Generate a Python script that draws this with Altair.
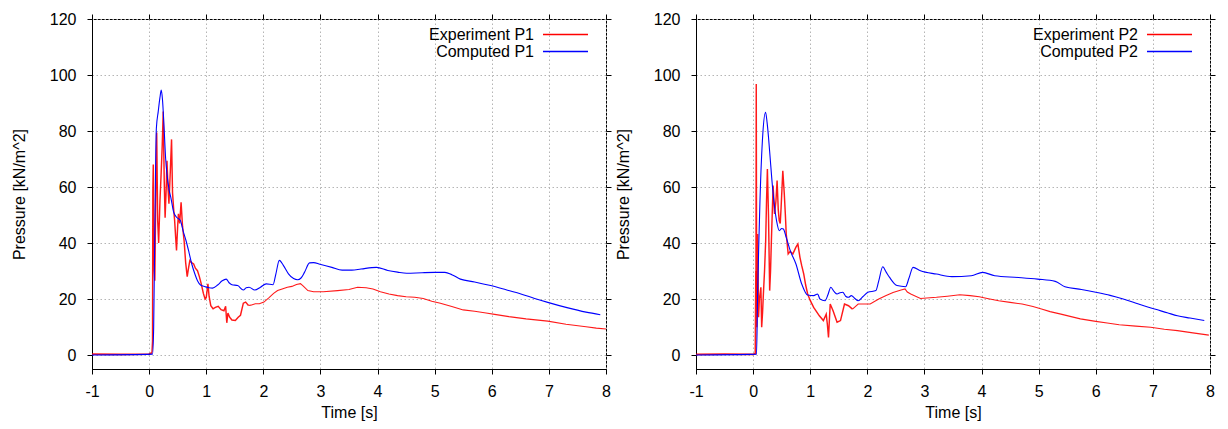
import altair as alt
import pandas as pd

# ---------------- data ----------------
# Panel 1 : experiment P1 (red)
exp1_t = [-1, -0.5, 0.0, 0.05, 0.06, 0.065, 0.073, 0.08, 0.09, 0.1, 0.115, 0.133, 0.15, 0.167,
          0.19, 0.21, 0.23, 0.247, 0.265, 0.28, 0.3, 0.313, 0.33, 0.347, 0.37, 0.393, 0.41, 0.43,
          0.447, 0.465, 0.48, 0.5, 0.513, 0.535, 0.56, 0.585, 0.613, 0.64, 0.667, 0.69, 0.713,
          0.745, 0.78, 0.81, 0.847, 0.88, 0.913, 0.95, 0.98, 1.0, 1.03, 1.05, 1.08, 1.12, 1.16,
          1.21, 1.26, 1.31, 1.34, 1.36, 1.38, 1.41, 1.45, 1.51, 1.56, 1.6, 1.65, 1.69, 1.74, 1.78,
          1.86, 1.93, 2.01, 2.1, 2.18, 2.25, 2.33, 2.42, 2.5, 2.58, 2.65, 2.7, 2.78, 2.88, 3.05,
          3.3, 3.5, 3.65, 3.8, 3.92, 4.05, 4.2, 4.35, 4.5, 4.65, 4.8, 4.95, 5.1, 5.3, 5.5, 5.7,
          5.9, 6.05, 6.3, 6.6, 6.98, 7.3, 7.65, 7.83, 8.0]
exp1_p = [0.3, 0.2, 0.3, 0.8, 5, 58, 68, 45, 30, 26.5, 55, 79.5, 48, 40,
          55, 64.6, 75, 87, 62, 49, 60, 69.4, 60, 54, 65, 77, 58, 52,
          48, 42, 37.3, 46, 50.4, 47, 54.5, 46, 40.8, 33, 28, 31, 33.7,
          33, 32.5, 31, 30.1, 28, 25.4, 22, 20, 20.5, 25.4, 21, 17.6, 16.5, 17,
          17.4, 16.2, 15.8, 17.4, 11.5, 15, 13.5, 12.5, 12.3, 13.5, 14.2, 18.5, 18.9, 17.7, 17.8,
          18.3, 18.3, 18.9, 20.5, 22, 23, 23.6, 24.2, 24.5, 25.2, 25.5, 24.6, 23, 22.6, 22.6,
          23, 23.4, 24.2, 24, 23.6, 22.6, 21.8, 21.2, 20.8, 20.6, 20.2, 19.2, 18.5, 17.3, 16.1, 15.6,
          15, 14.5, 13.7, 12.9, 12.1, 11, 10.1, 9.6, 9.3]

# Panel 1 : computed P1 (blue)
comp1_t = [-1, 0.06, 0.08, 0.1, 0.127, 0.16, 0.19, 0.213, 0.235, 0.26, 0.29, 0.313, 0.35, 0.38,
           0.43, 0.48, 0.52, 0.547, 0.6, 0.647, 0.7, 0.747, 0.8, 0.847, 0.9, 0.98, 1.05, 1.11,
           1.2, 1.28, 1.35, 1.4, 1.45, 1.55, 1.65, 1.7, 1.75, 1.85, 1.95, 2.05, 2.17, 2.22, 2.28,
           2.35, 2.44, 2.53, 2.6, 2.66, 2.72, 2.81, 2.88, 2.99, 3.2, 3.38, 3.55, 3.71, 3.98, 4.18,
           4.35, 4.51, 4.78, 5.0, 5.18, 5.3, 5.45, 5.7, 5.98, 6.25, 6.51, 6.75, 6.98, 7.3, 7.65, 7.9]
comp1_p = [0, 0.3, 10, 45, 81, 87, 92, 94.6, 91, 82, 70, 64.6, 59, 56.3,
           51, 49.2, 48.6, 48, 44, 40.8, 36.5, 32.5, 29, 26.5, 25, 24.4, 24, 23.9,
           25, 26.5, 27.1, 25.8, 25.1, 24.8, 23.2, 24, 24.2, 23.2, 24.2, 25.4, 25.1, 29, 33.8,
           32, 29, 27.3, 26.9, 27.5, 29.5, 32.9, 33, 32.4, 31.3, 30.3, 30.3, 30.7, 31.3, 30.2,
           29.6, 29.2, 29.4, 29.5, 29.5, 28.7, 27.1, 26.1, 24.8, 23.3, 21.8, 20.2, 18.8, 17, 15.3, 14.4]

# Panel 2 : experiment P2 (red)
exp2_t = [-1, -0.5, 0.0, 0.04, 0.05, 0.055, 0.06, 0.065, 0.08, 0.095, 0.11, 0.136, 0.15, 0.165,
          0.18, 0.2, 0.22, 0.235, 0.25, 0.27, 0.29, 0.305, 0.32, 0.35, 0.375, 0.4, 0.42, 0.44,
          0.457, 0.475, 0.49, 0.52, 0.546, 0.565, 0.58, 0.614, 0.65, 0.696, 0.75, 0.784, 0.82,
          0.85, 0.887, 0.92, 0.955, 1.0, 1.06, 1.16, 1.23, 1.28, 1.3, 1.32, 1.35, 1.4, 1.47,
          1.53, 1.6, 1.67, 1.74, 1.84, 2.05, 2.2, 2.32, 2.45, 2.59, 2.66, 2.7, 2.76, 2.93, 3.21,
          3.4, 3.62, 3.8, 3.96, 4.1, 4.3, 4.5, 4.71, 4.9, 5.05, 5.2, 5.39, 5.55, 5.73, 6.0, 6.2,
          6.41, 6.7, 6.96, 7.2, 7.43, 7.7, 7.98]
exp2_p = [0.2, 0.3, 0.2, 0.5, 30, 96.8, 40, 9.9, 43.2, 13.5, 20, 24.2, 9.9, 15,
          21.8, 30, 40.8, 55, 66.4, 49.2, 23, 30, 40.8, 60.5, 50.4, 55, 62.3, 52,
          48, 47, 52.7, 65.8, 57.5, 50, 43.2, 36.1, 37, 36.1, 38.5, 39.6, 34.9,
          32, 28.9, 25, 21.8, 19.5, 17, 14, 12.3, 14.6, 11, 6.3, 18.2, 15.8, 11.7,
          12.3, 18.2, 17.6, 16.4, 18.2, 18.2, 20, 21.2, 22.3, 23.2, 23.6, 22.5, 21.8, 20.2, 20.6,
          21, 21.5, 21.2, 20.8, 20.2, 19.4, 18.8, 18.2, 17.3, 16.4, 15.5, 14.6, 13.8, 12.9, 12, 11.4,
          10.8, 10.3, 9.9, 9.2, 8.7, 7.9, 7.1]

# Panel 2 : computed P2 (blue)
comp2_t = [-1, 0.06, 0.08, 0.1, 0.12, 0.17, 0.218, 0.245, 0.27, 0.3, 0.34, 0.41, 0.46, 0.5,
           0.53, 0.58, 0.65, 0.75, 0.85, 0.955, 1.06, 1.13, 1.17, 1.26, 1.31, 1.36, 1.42, 1.47,
           1.52, 1.57, 1.62, 1.67, 1.72, 1.78, 1.84, 1.92, 2.01, 2.15, 2.2, 2.27, 2.33, 2.39,
           2.52, 2.67, 2.73, 2.8, 2.93, 3.21, 3.48, 3.82, 4.02, 4.23, 4.64, 4.98, 5.29, 5.46,
           5.75, 6.0, 6.25, 6.48, 6.75, 7.03, 7.25, 7.43, 7.65, 7.9]
comp2_p = [0, 0.3, 23, 40, 55, 79, 86.7, 83, 77.7, 70, 59.9, 48, 44.4, 45.2,
           45, 42, 37.3, 32.5, 25.4, 21.4, 21.2, 21.8, 20, 19.4, 21.5, 24.2, 22.6, 21.8,
           22.2, 22.4, 21, 20.6, 21.2, 20.2, 19.4, 20.8, 22.4, 23, 26.5, 31.5, 29.6, 27.7,
           24.8, 24.4, 27.5, 31.3, 30.1, 28.9, 28, 28.3, 29.5, 28.3, 27.7, 27.1, 26.3, 24.4,
           23.4, 22.4, 21.3, 20, 18.2, 16.4, 15.1, 14, 13.2, 12.3]

x_ticks = [-1, 0, 1, 2, 3, 4, 5, 6, 7, 8]
y_ticks = [0, 20, 40, 60, 80, 100, 120]

# ---------------- styling ----------------
FONT = "Liberation Sans"
FS = 16
RED = "#ff0000"
BLUE = "#0000ff"
PW, PH = 514, 350
SEG_NAMES = ["flat", "spiky", "tail"]
SEG_WIDTHS = [1.8, 1.1, 2.6]


def seg_of(t):
    if t <= 0.05:
        return "flat"
    if t < 1.78:
        return "spiky"
    return "tail"


def exp_frame(ts, ps, name):
    rows = []
    prev = None
    for t, p in zip(ts, ps):
        s = seg_of(t)
        if prev is not None and prev[2] != s:
            # repeat the previous point so that consecutive segments join
            rows.append({"t": prev[0], "p": prev[1], "series": name, "seg": s})
        rows.append({"t": t, "p": p, "series": name, "seg": s})
        prev = (t, p, s)
    return pd.DataFrame(rows)


def panel(e_t, e_p, c_t, c_p, e_name, c_name):
    xs = alt.Scale(domain=[-1, 8], nice=False, zero=False)
    ys = alt.Scale(domain=[-5, 120], nice=False, zero=False)
    color = alt.Color(
        "series:N",
        scale=alt.Scale(domain=[e_name, c_name], range=[RED, BLUE]),
        legend=alt.Legend(
            title=None, orient="none", legendX=425, legendY=7,
            symbolType="M2.333,0H8.333", symbolSize=225, symbolStrokeWidth=1.3,
            symbolOffset=0,
            labelAlign="right", labelOffset=0, labelFont=FONT, labelFontSize=FS,
            labelColor="black", rowPadding=0, padding=0, symbolOpacity=1,
        ),
    )
    df_e = exp_frame(e_t, e_p, e_name)
    df_c = pd.DataFrame({"t": c_t, "p": c_p, "series": c_name})

    x_axis = alt.Axis(values=x_ticks, title="Time [s]", labelExpr="'' + datum.value",
                      labelFlush=False, grid=True, labelPadding=9, titlePadding=5)
    y_axis = alt.Axis(values=y_ticks, title="Pressure [kN/m^2]", labelExpr="'' + datum.value",
                      grid=True, labelPadding=11, titlePadding=22)

    red = alt.Chart(df_e).mark_line(opacity=0.9).encode(
        x=alt.X("t:Q", scale=xs, axis=x_axis),
        y=alt.Y("p:Q", scale=ys, axis=y_axis),
        color=color,
        detail="seg:N",
        strokeWidth=alt.StrokeWidth("seg:N", scale=alt.Scale(domain=SEG_NAMES, range=SEG_WIDTHS),
                                    legend=None),
    )
    blue = alt.Chart(df_c).mark_line(strokeWidth=1.1, interpolate="monotone").encode(
        x=alt.X("t:Q", scale=xs, axis=None),
        y=alt.Y("p:Q", scale=ys, axis=None),
        color=color,
    )
    mirror = alt.Chart(df_c).mark_line(opacity=0).encode(
        x=alt.X("t:Q", scale=xs, axis=alt.Axis(orient="top", values=x_ticks, labels=False,
                                               title=None, grid=False, domain=False)),
        y=alt.Y("p:Q", scale=ys, axis=alt.Axis(orient="right", values=y_ticks, labels=False,
                                               title=None, grid=False, domain=False)),
    )
    return alt.layer(red, blue, mirror).resolve_axis(x="independent", y="independent").properties(
        width=PW, height=PH)


left = panel(exp1_t, exp1_p, comp1_t, comp1_p, "Experiment P1", "Computed P1")
right = panel(exp2_t, exp2_p, comp2_t, comp2_p, "Experiment P2", "Computed P2")

chart = alt.hconcat(left, right, spacing=90, bounds="flush").resolve_scale(
    color="independent", strokeWidth="independent"
).resolve_legend(color="independent").properties(
    padding={"left": 2, "top": 2, "right": 0, "bottom": 0}
).configure_view(
    stroke="black", strokeWidth=1
).configure_axis(
    labelFont=FONT, titleFont=FONT, labelFontSize=FS, titleFontSize=FS,
    titleFontWeight="normal", labelColor="black", titleColor="black",
    domainColor="black", tickColor="black", tickSize=5, domainWidth=1, tickWidth=1,
    gridColor="#b5b5b5", gridDash=[1.5, 2.5], gridWidth=1,
).configure_legend(labelFont=FONT)

chart.save("out.html", embed_options={"renderer": "svg", "actions": False})
